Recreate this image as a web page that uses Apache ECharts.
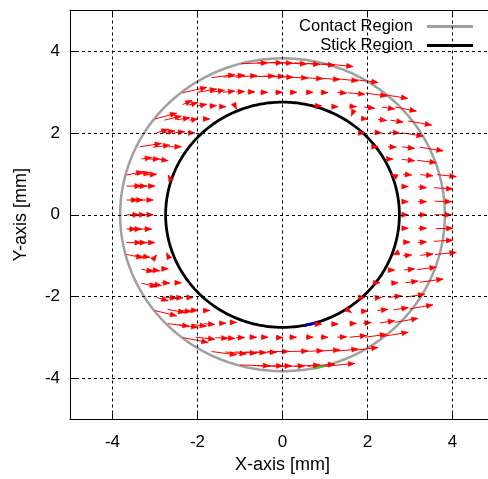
<!DOCTYPE html>
<html>
<head>
<meta charset="utf-8">
<script src="https://cdn.jsdelivr.net/npm/echarts@6/dist/echarts.min.js"></script>
<style>html,body{margin:0;padding:0;background:#fff;overflow:hidden}#c{width:488px;height:479px}</style>
</head>
<body>
<div id="c"></div>
<script>
// ---- data ----
var xTicks = [-4, -2, 0, 2, 4];
var yTicks = [-4, -2, 0, 2, 4];
var axisRange = [-5, 5];
var legendNames = ['Contact Region', 'Stick Region'];
// region boundaries: [radius, startDeg, endDeg]
var contactRegion = [[3.82, 0, 360]];
var stickRegion = [[2.75, 0, 360]];
var greenArc = [[3.82, -79, -74]];
var blueArc = [[2.75, -79, -73]];
// slip velocity vectors: arrow head position (x, y) and vector (u, v)
var arrowHeadX = [
 -0.35,0.00,0.24,0.57,0.88,1.23,1.66,
 -1.12,-0.89,-0.60,-0.18,0.05,0.25,0.60,0.95,1.35,1.78,2.25,
 -1.78,-1.55,-1.36,-1.12,-0.89,-0.65,-0.35,0.00,0.34,0.72,1.07,1.51,1.94,2.46,2.95,
 -2.13,-1.99,-1.78,-1.55,-1.33,-1.08,0.92,1.31,1.74,2.17,2.64,3.15,
 -2.49,-2.38,-2.18,-1.99,-1.71,1.62,2.01,2.45,2.84,3.51,
 -2.69,-2.53,-2.30,-2.06,1.94,2.33,2.76,3.31,
 -2.85,-2.65,-2.38,2.25,2.68,3.11,3.78,
 -3.08,-2.89,-2.69,2.60,3.11,3.62,
 -3.28,-3.12,-2.96,-2.69,2.56,3.04,3.54,4.09,
 -3.32,-3.20,-3.00,2.96,3.39,4.01,
 -3.40,-3.28,-3.04,2.96,3.39,3.98,
 -3.37,-3.22,-3.04,2.96,3.39,3.98,
 -3.44,-3.32,-3.08,2.96,3.39,4.01,
 -3.32,-3.20,-3.00,3.00,3.39,4.01,
 -3.28,-3.12,-2.96,-2.73,2.60,3.04,3.54,4.09,
 -3.04,-2.89,-2.69,2.64,3.11,3.62,
 -2.96,-2.85,-2.65,-2.38,2.29,2.72,3.19,3.78,
 -2.69,-2.49,-2.34,-2.10,1.94,2.33,2.80,3.35,
 -2.49,-2.30,-2.14,-1.99,-1.71,1.62,2.01,2.48,2.96,3.54,
 -2.20,-1.99,-1.79,-1.59,-1.33,-1.08,0.92,1.31,1.74,2.09,2.64,3.19,
 -1.75,-1.59,-1.28,-1.12,-0.89,-0.61,-0.34,0.01,0.33,0.72,1.07,1.51,1.98,2.45,2.96,
 -1.08,-0.85,-0.61,-0.38,-0.14,0.15,0.60,0.96,1.35,1.78,2.25,
 -0.30,0.01,0.21,0.52,0.88,1.23,1.70
];
var arrowHeadY = [
 3.71,3.71,3.70,3.68,3.67,3.65,3.62,
 3.42,3.41,3.40,3.39,3.38,3.36,3.34,3.32,3.30,3.27,3.23,
 3.11,3.07,3.04,3.02,3.01,3.00,2.99,2.99,2.99,2.99,2.98,2.97,2.94,2.90,2.84,
 2.79,2.74,2.70,2.67,2.64,2.58,2.66,2.64,2.64,2.60,2.58,2.53,
 2.48,2.41,2.37,2.34,2.34,2.41,2.34,2.30,2.26,2.19,
 2.09,2.05,2.03,2.00,2.00,2.00,1.99,1.92,
 1.74,1.70,1.66,1.66,1.65,1.62,1.56,
 1.40,1.36,1.32,1.36,1.32,1.27,
 1.05,1.03,0.99,0.97,0.99,0.97,0.95,0.93,
 0.70,0.70,0.70,0.69,0.66,0.63,
 0.36,0.36,0.36,0.32,0.32,0.32,
 0.00,0.00,0.00,0.00,0.00,0.00,
 -0.35,-0.35,-0.35,-0.33,-0.33,-0.33,
 -0.68,-0.68,-0.68,-0.67,-0.66,-0.62,
 -1.05,-1.04,-0.98,-0.93,-0.98,-0.98,-0.96,-0.92,
 -1.39,-1.37,-1.32,-1.35,-1.32,-1.28,
 -1.76,-1.73,-1.67,-1.66,-1.66,-1.66,-1.62,-1.57,
 -2.10,-2.04,-2.03,-2.02,-2.02,-2.02,-1.98,-1.94,
 -2.47,-2.39,-2.37,-2.34,-2.34,-2.39,-2.35,-2.31,-2.27,-2.20,
 -2.72,-2.75,-2.72,-2.68,-2.65,-2.63,-2.67,-2.67,-2.65,-2.63,-2.59,-2.53,
 -3.12,-3.04,-3.02,-3.02,-3.00,-2.99,-2.99,-3.00,-2.99,-2.99,-2.99,-2.98,-2.95,-2.92,-2.87,
 -3.42,-3.40,-3.38,-3.37,-3.36,-3.34,-3.33,-3.32,-3.30,-3.28,-3.24,
 -3.69,-3.69,-3.69,-3.69,-3.67,-3.65,-3.63
];
var arrowU = [
 0.62,0.60,0.55,0.55,0.60,0.65,0.70,
 0.55,0.50,0.50,0.50,0.50,0.50,0.50,0.50,0.50,0.50,0.55,
 0.57,0.45,0.35,0.28,0.20,0.17,0.17,0.17,0.17,0.17,0.17,0.22,0.40,0.50,0.60,
 0.22,0.22,0.20,0.17,0.15,0.06,0.15,0.15,0.17,0.25,0.30,0.50,
 0.51,0.40,0.30,0.20,0.15,-0.05,0.15,0.20,0.30,0.55,
 0.27,0.30,0.25,0.18,0.12,0.15,0.25,0.50,
 0.51,0.40,0.30,0.12,0.20,0.30,0.55,
 0.24,0.25,0.20,0.15,0.30,0.45,
 0.39,0.35,0.30,-0.05,-0.10,0.20,0.30,0.45,
 0.35,0.30,0.30,0.15,0.20,0.45,
 0.27,0.30,0.30,0.15,0.20,0.40,
 0.29,0.30,0.30,0.15,0.20,0.40,
 0.23,0.30,0.30,0.15,0.20,0.40,
 0.35,0.30,0.30,0.15,0.20,0.45,
 0.39,0.35,0.08,-0.05,-0.10,0.20,0.30,0.50,
 0.28,0.25,0.15,0.12,0.25,0.45,
 0.36,0.30,0.20,0.15,0.12,0.15,0.30,0.55,
 0.27,0.30,0.25,0.15,0.12,0.15,0.30,0.45,
 0.51,0.40,0.30,0.20,0.15,0.08,0.15,0.25,0.35,0.55,
 0.50,0.45,0.35,0.25,0.15,0.12,0.12,0.15,0.15,0.20,0.35,0.55,
 0.59,0.45,0.30,0.25,0.20,0.17,0.17,0.17,0.17,0.17,0.17,0.22,0.40,0.50,0.60,
 0.59,0.50,0.50,0.50,0.50,0.50,0.50,0.50,0.50,0.50,0.55,
 0.70,0.60,0.55,0.55,0.60,0.65,0.70
];
var arrowV = [
 0.02,0.00,-0.02,-0.03,-0.04,-0.05,-0.07,
 0.07,0.05,0.04,0.02,0.00,-0.01,-0.02,-0.03,-0.04,-0.05,-0.07,
 0.13,0.08,0.05,0.03,0.01,0.00,0.00,0.00,0.00,0.00,-0.01,-0.02,-0.04,-0.07,-0.10,
 0.10,0.06,0.04,0.02,0.00,-0.12,0.00,0.00,-0.01,-0.03,-0.05,-0.10,
 0.14,0.10,0.05,0.03,0.00,-0.12,-0.01,-0.03,-0.05,-0.10,
 0.09,0.05,0.03,0.00,0.00,-0.01,-0.03,-0.08,
 0.08,0.05,0.00,0.00,-0.01,-0.04,-0.09,
 0.04,0.00,-0.03,0.00,-0.03,-0.06,
 0.08,0.05,0.02,0.10,0.05,-0.02,-0.03,-0.05,
 0.00,0.00,0.00,0.00,-0.02,-0.03,
 0.00,0.00,0.00,0.00,0.00,-0.01,
 0.00,0.00,0.00,0.00,0.00,0.00,
 0.00,0.00,0.00,0.00,0.00,0.01,
 0.00,0.00,0.00,0.00,0.02,0.03,
 -0.08,-0.05,0.10,0.10,-0.05,0.02,0.03,0.05,
 -0.06,-0.03,0.00,0.00,0.03,0.06,
 -0.09,-0.05,-0.01,0.00,0.00,0.01,0.04,0.08,
 -0.08,-0.03,-0.01,0.00,0.00,0.01,0.04,0.07,
 -0.13,-0.08,-0.04,-0.01,0.00,-0.06,0.01,0.03,0.05,0.10,
 -0.06,-0.06,-0.04,-0.02,0.00,0.00,0.00,0.00,0.01,0.02,0.05,0.10,
 -0.12,-0.05,-0.02,-0.01,0.00,0.00,0.00,0.00,0.00,0.00,0.00,0.01,0.04,0.07,0.10,
 -0.08,-0.05,-0.03,-0.02,-0.01,0.00,0.01,0.02,0.03,0.05,0.07,
 -0.02,0.00,0.01,0.02,0.03,0.05,0.07
];

// ---- build ----
var FONT = 'Liberation Sans, Arial, sans-serif';
var arrowData = arrowHeadX.map(function (x, i) { return [x, arrowHeadY[i], arrowU[i], arrowV[i]]; });

function ringRenderer(color, width) {
  return function (params, api) {
    var r = api.value(0), a0 = api.value(1), a1 = api.value(2);
    var c = api.coord([0, 0]);
    var s = api.size([r, r]);
    var pts = [];
    for (var a = a0; a <= a1 + 1e-9; a += 1) {
      var t = a * Math.PI / 180;
      pts.push([c[0] + s[0] * Math.cos(t), c[1] - s[1] * Math.sin(t)]);
    }
    return { type: 'polyline', shape: { points: pts }, style: { stroke: color, lineWidth: width, fill: null } };
  };
}

function arrowRenderer(params, api) {
  var hx = api.value(0), hy = api.value(1), u = api.value(2), v = api.value(3);
  var h = api.coord([hx, hy]);
  var t = api.coord([hx - u, hy - v]);
  var dx = h[0] - t[0], dy = h[1] - t[1];
  var len = Math.sqrt(dx * dx + dy * dy) || 1;
  var ux = dx / len, uy = dy / len;
  var hl = 6.5, hw = 2.6;
  var b = [h[0] - ux * hl, h[1] - uy * hl];
  return {
    type: 'group',
    children: [
      { type: 'line', shape: { x1: t[0], y1: t[1], x2: h[0], y2: h[1] }, style: { stroke: '#ff0000', lineWidth: 1 } },
      { type: 'polygon', shape: { points: [h, [b[0] - uy * hw, b[1] + ux * hw], [b[0] + uy * hw, b[1] - ux * hw]] }, style: { fill: '#ff0000', stroke: '#ff0000', lineWidth: 0.5 } }
    ]
  };
}

var gridLines = xTicks.map(function (v) { return { xAxis: v }; }).concat(yTicks.map(function (v) { return { yAxis: v }; }));

var chart = echarts.init(document.getElementById('c'), null, { renderer: 'canvas' });
chart.setOption({
  animation: false,
  backgroundColor: '#fff',
  textStyle: { fontFamily: FONT },
  grid: { left: 70, top: 10, width: 425, height: 409.5, outerBoundsMode: 'none', containLabel: false },
  legend: {
    orient: 'vertical',
    align: 'right',
    right: 8,
    top: 17,
    padding: [1, 7, 2, 25],
    itemGap: 2,
    itemWidth: 46,
    itemHeight: 3,
    backgroundColor: '#fff',
    formatter: function (n) { return n + '  '; },
    textStyle: { fontSize: 16.5, color: '#000', fontFamily: FONT },
    data: [
      { name: legendNames[0], icon: 'rect', itemStyle: { color: '#a0a0a0' } },
      { name: legendNames[1], icon: 'rect', itemStyle: { color: '#000' } }
    ]
  },
  xAxis: [{
    type: 'value', min: axisRange[0], max: axisRange[1], position: 'bottom',
    axisLine: { show: true, onZero: false, lineStyle: { color: '#000', width: 1 } },
    axisTick: { show: true, inside: true, length: 6, customValues: xTicks, lineStyle: { color: '#000' } },
    axisLabel: { customValues: xTicks, fontSize: 17, color: '#000', margin: 14, fontFamily: FONT },
    splitLine: { show: false },
    name: 'X-axis [mm]', nameLocation: 'middle', nameGap: 37,
    nameTextStyle: { fontSize: 18, color: '#000', fontFamily: FONT }
  }, {
    type: 'value', min: axisRange[0], max: axisRange[1], position: 'top', z: 10,
    axisLine: { show: true, onZero: false, lineStyle: { color: '#000', width: 1 } },
    axisTick: { show: true, inside: true, length: 6, customValues: xTicks, lineStyle: { color: '#000' } },
    axisLabel: { show: false },
    splitLine: { show: false }
  }],
  yAxis: [{
    type: 'value', min: axisRange[0], max: axisRange[1], position: 'left',
    axisLine: { show: true, onZero: false, lineStyle: { color: '#000', width: 1 } },
    axisTick: { show: true, inside: true, length: 6, customValues: yTicks, lineStyle: { color: '#000' } },
    axisLabel: { customValues: yTicks, fontSize: 17, color: '#000', margin: 10, fontFamily: FONT },
    splitLine: { show: false },
    name: 'Y-axis [mm]', nameLocation: 'middle', nameGap: 40,
    nameTextStyle: { fontSize: 18, color: '#000', fontFamily: FONT }
  }],
  series: [
    {
      type: 'line', data: [], z: 1, silent: true,
      markLine: {
        silent: true, symbol: ['none', 'none'], label: { show: false },
        lineStyle: { color: '#000', type: [3, 3], width: 1 },
        emphasis: { disabled: true },
        data: gridLines
      }
    },
    { name: legendNames[0], type: 'custom', data: contactRegion, renderItem: ringRenderer('#a0a0a0', 2.5), itemStyle: { color: '#a0a0a0' }, z: 2, silent: true },
    { name: legendNames[1], type: 'custom', data: stickRegion, renderItem: ringRenderer('#000', 2.8), itemStyle: { color: '#000' }, z: 2, silent: true },
    { type: 'custom', data: greenArc, renderItem: ringRenderer('#40c040', 2.5), z: 2, silent: true },
    { type: 'custom', data: blueArc, renderItem: ringRenderer('#0000c0', 2.8), z: 2, silent: true },
    { type: 'custom', data: arrowData, renderItem: arrowRenderer, z: 3, silent: true, encode: { x: 0, y: 1 } }
  ]
});
</script>
</body>
</html>
